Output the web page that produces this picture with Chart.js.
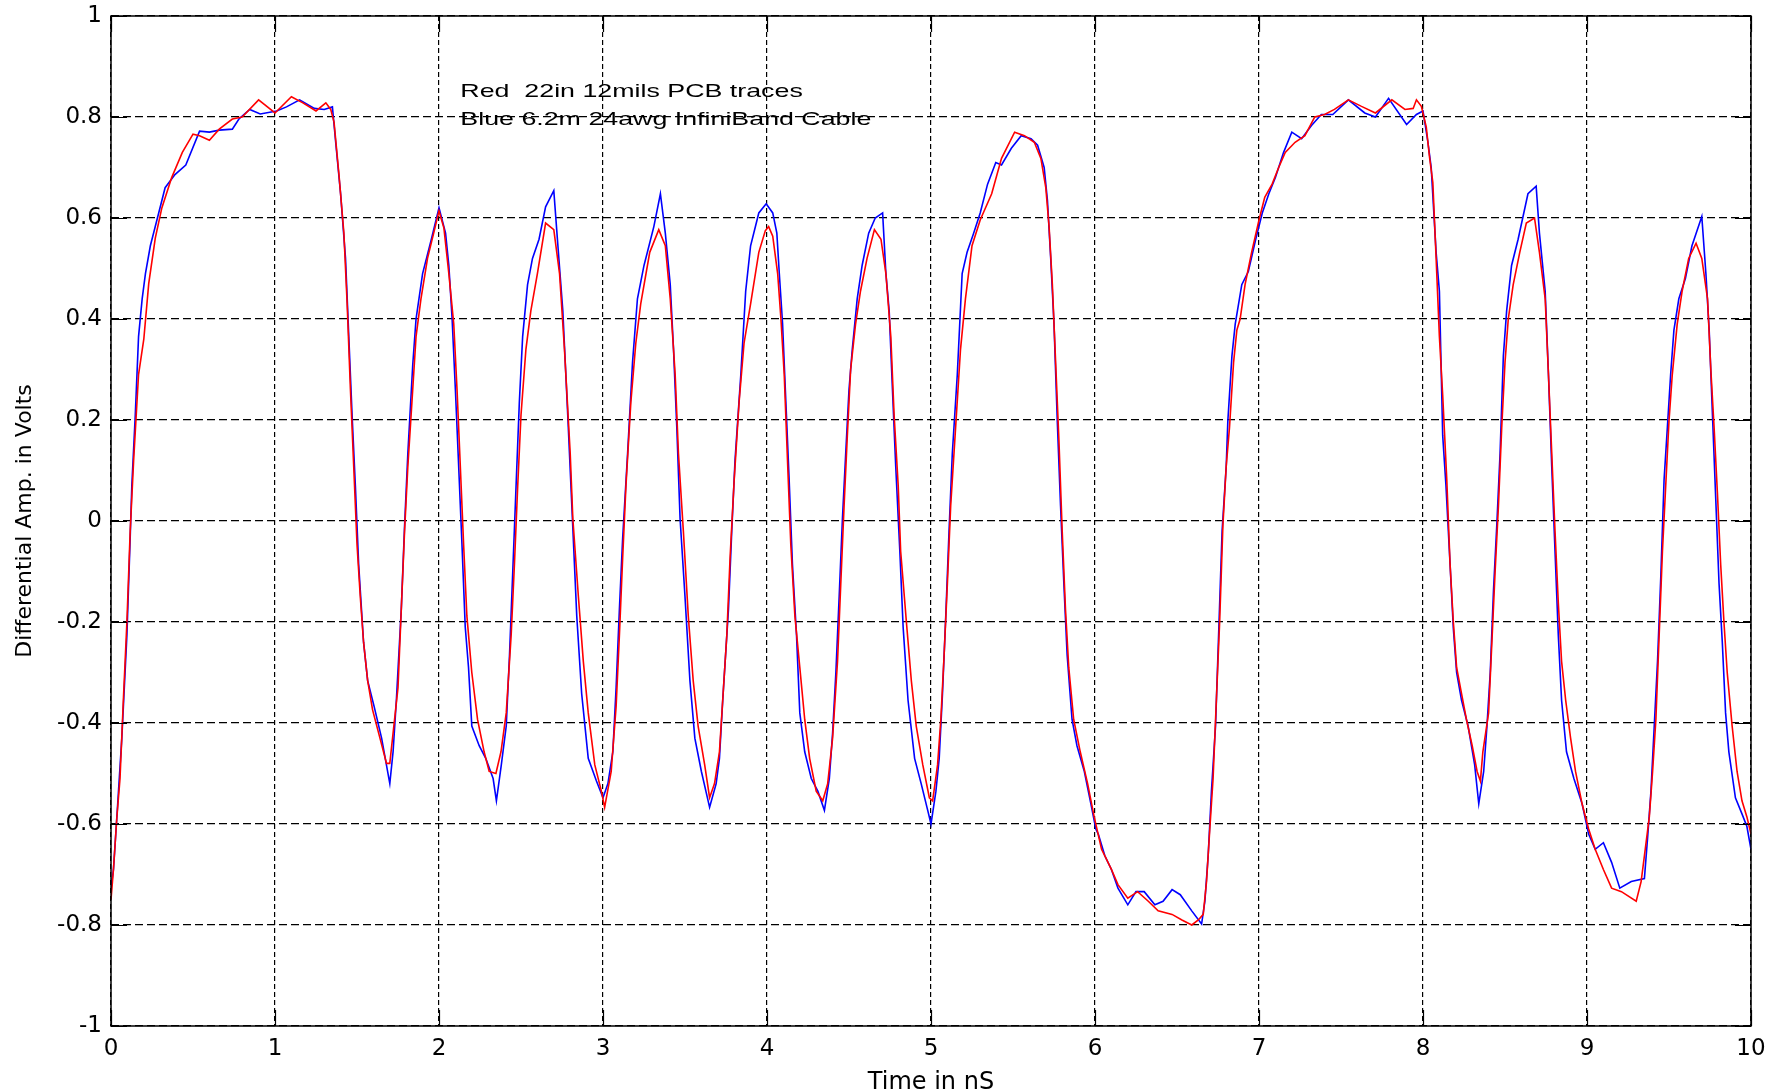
<!DOCTYPE html>
<html>
<head>
<meta charset="utf-8">
<script src="https://cdn.jsdelivr.net/npm/chart.js@4.4.0/dist/chart.umd.min.js"></script>
<style>
  body { margin: 0; background: #fff; }
  .wrap { width: 1777px; height: 1091px; position: relative; }
</style>
</head>
<body>
<div class="wrap"><canvas id="waveChart"></canvas></div>
<script>
var xTicks = [0, 1, 2, 3, 4, 5, 6, 7, 8, 9, 10];
var yTicks = [-1, -0.8, -0.6, -0.4, -0.2, 0, 0.2, 0.4, 0.6, 0.8, 1];

// Red: 22in 12mils PCB traces
var redTime = [0, 0.015, 0.035, 0.055, 0.076, 0.097, 0.117, 0.138, 0.168, 0.2, 0.23, 0.27, 0.31, 0.37, 0.435, 0.5, 0.54, 0.6, 0.66, 0.74, 0.8, 0.9, 1.0, 1.1, 1.17, 1.25, 1.31, 1.34, 1.36, 1.39, 1.42, 1.44, 1.46, 1.48, 1.5, 1.52, 1.54, 1.565, 1.595, 1.64, 1.68, 1.7, 1.72, 1.75, 1.77, 1.79, 1.81, 1.83, 1.86, 1.89, 1.93, 1.975, 2.0, 2.03, 2.06, 2.09, 2.11, 2.13, 2.15, 2.17, 2.2, 2.235, 2.275, 2.306, 2.347, 2.378, 2.41, 2.44, 2.46, 2.48, 2.5, 2.53, 2.56, 2.6, 2.65, 2.7, 2.735, 2.765, 2.8, 2.816, 2.85, 2.88, 2.91, 2.95, 2.99, 3.01, 3.05, 3.08, 3.1, 3.12, 3.14, 3.17, 3.2, 3.23, 3.285, 3.34, 3.38, 3.41, 3.44, 3.46, 3.49, 3.52, 3.55, 3.58, 3.62, 3.65, 3.68, 3.71, 3.73, 3.755, 3.775, 3.8, 3.83, 3.86, 3.9, 3.95, 3.99, 4.01, 4.035, 4.065, 4.085, 4.105, 4.125, 4.145, 4.17, 4.2, 4.23, 4.26, 4.3, 4.34, 4.37, 4.4, 4.43, 4.45, 4.47, 4.49, 4.51, 4.54, 4.57, 4.61, 4.655, 4.695, 4.725, 4.755, 4.775, 4.8, 4.815, 4.85, 4.88, 4.91, 4.95, 4.99, 5.01, 5.04, 5.06, 5.08, 5.1, 5.12, 5.15, 5.18, 5.21, 5.25, 5.3, 5.37, 5.43, 5.51, 5.57, 5.63, 5.67, 5.7, 5.72, 5.74, 5.76, 5.78, 5.8, 5.82, 5.84, 5.87, 5.91, 5.955, 5.995, 6.04, 6.06, 6.1, 6.14, 6.2, 6.26, 6.325, 6.385, 6.47, 6.53, 6.59, 6.63, 6.66, 6.68, 6.7, 6.72, 6.74, 6.76, 6.78, 6.8, 6.82, 6.845, 6.865, 6.885, 6.915, 6.955, 7.0, 7.035, 7.08, 7.12, 7.16, 7.22, 7.28, 7.34, 7.4, 7.46, 7.545, 7.625, 7.71, 7.81, 7.89, 7.94, 7.96, 7.99, 8.02, 8.04, 8.06, 8.08, 8.1, 8.12, 8.145, 8.165, 8.185, 8.205, 8.235, 8.265, 8.3, 8.33, 8.35, 8.365, 8.4, 8.42, 8.44, 8.46, 8.48, 8.5, 8.52, 8.55, 8.59, 8.63, 8.68, 8.71, 8.745, 8.765, 8.785, 8.805, 8.825, 8.845, 8.87, 8.9, 8.93, 8.97, 9.01, 9.05, 9.1, 9.15, 9.21, 9.3, 9.33, 9.35, 9.38, 9.4, 9.42, 9.44, 9.46, 9.48, 9.5, 9.52, 9.55, 9.58, 9.62, 9.665, 9.7, 9.735, 9.755, 9.775, 9.795, 9.815, 9.835, 9.855, 9.885, 9.915, 9.945, 9.975, 10.0];
var redVolts = [-0.75, -0.69, -0.59, -0.51, -0.35, -0.2, -0.02, 0.12, 0.29, 0.36, 0.47, 0.56, 0.62, 0.68, 0.73, 0.766, 0.763, 0.754, 0.776, 0.796, 0.8, 0.834, 0.808, 0.84, 0.828, 0.812, 0.828, 0.815, 0.79, 0.686, 0.57, 0.43, 0.26, 0.108, -0.046, -0.15, -0.24, -0.316, -0.374, -0.43, -0.48, -0.48, -0.42, -0.33, -0.175, -0.02, 0.108, 0.21, 0.365, 0.44, 0.52, 0.58, 0.614, 0.58, 0.49, 0.39, 0.26, 0.108, -0.046, -0.188, -0.3, -0.393, -0.457, -0.496, -0.5, -0.457, -0.38, -0.226, -0.085, 0.07, 0.21, 0.34, 0.416, 0.49, 0.59, 0.577, 0.49, 0.34, 0.134, 0.005, -0.15, -0.278, -0.38, -0.483, -0.535, -0.567, -0.496, -0.367, -0.226, -0.072, 0.07, 0.236, 0.352, 0.43, 0.532, 0.577, 0.545, 0.44, 0.29, 0.134, -0.02, -0.188, -0.316, -0.406, -0.483, -0.548, -0.52, -0.457, -0.355, -0.226, -0.072, 0.082, 0.236, 0.352, 0.43, 0.532, 0.575, 0.583, 0.564, 0.49, 0.4, 0.29, 0.12, -0.046, -0.188, -0.29, -0.393, -0.47, -0.535, -0.554, -0.52, -0.43, -0.278, -0.123, 0.03, 0.17, 0.3, 0.39, 0.455, 0.52, 0.577, 0.558, 0.49, 0.365, 0.21, 0.07, -0.06, -0.2, -0.316, -0.406, -0.483, -0.548, -0.554, -0.483, -0.393, -0.265, -0.123, 0.03, 0.185, 0.34, 0.44, 0.545, 0.596, 0.648, 0.718, 0.77, 0.763, 0.75, 0.718, 0.66, 0.583, 0.468, 0.314, 0.16, -0.02, -0.175, -0.29, -0.393, -0.457, -0.52, -0.586, -0.65, -0.663, -0.69, -0.72, -0.747, -0.734, -0.753, -0.772, -0.779, -0.79, -0.8, -0.79, -0.779, -0.714, -0.61, -0.51, -0.355, -0.2, -0.008, 0.108, 0.185, 0.314, 0.378, 0.4, 0.468, 0.532, 0.596, 0.641, 0.667, 0.7, 0.73, 0.75, 0.763, 0.8, 0.805, 0.815, 0.834, 0.821, 0.808, 0.834, 0.815, 0.817, 0.834, 0.821, 0.78, 0.72, 0.67, 0.52, 0.365, 0.25, 0.082, -0.085, -0.2, -0.29, -0.342, -0.393, -0.445, -0.496, -0.515, -0.457, -0.38, -0.24, -0.098, 0.03, 0.185, 0.314, 0.4, 0.468, 0.532, 0.59, 0.6, 0.532, 0.44, 0.29, 0.134, -0.02, -0.162, -0.278, -0.355, -0.43, -0.496, -0.56, -0.61, -0.65, -0.69, -0.727, -0.734, -0.753, -0.714, -0.663, -0.586, -0.496, -0.393, -0.226, -0.06, 0.07, 0.198, 0.29, 0.39, 0.455, 0.52, 0.55, 0.52, 0.44, 0.3, 0.185, 0.057, -0.085, -0.2, -0.3, -0.406, -0.496, -0.554, -0.586, -0.62];

// Blue: 6.2m 24awg InfiniBand cable
var blueTime = [0, 0.015, 0.035, 0.066, 0.097, 0.117, 0.127, 0.148, 0.168, 0.19, 0.21, 0.24, 0.28, 0.33, 0.39, 0.456, 0.54, 0.6, 0.66, 0.74, 0.78, 0.846, 0.91, 1.01, 1.07, 1.15, 1.24, 1.3, 1.35, 1.37, 1.4, 1.43, 1.45, 1.47, 1.49, 1.51, 1.54, 1.565, 1.605, 1.65, 1.7, 1.72, 1.74, 1.77, 1.79, 1.81, 1.84, 1.86, 1.9, 1.955, 2.0, 2.04, 2.06, 2.08, 2.1, 2.12, 2.14, 2.16, 2.18, 2.2, 2.245, 2.285, 2.33, 2.35, 2.38, 2.41, 2.43, 2.45, 2.47, 2.49, 2.51, 2.54, 2.57, 2.61, 2.65, 2.7, 2.725, 2.755, 2.785, 2.81, 2.84, 2.87, 2.91, 2.96, 3.0, 3.03, 3.06, 3.08, 3.1, 3.12, 3.15, 3.18, 3.21, 3.25, 3.31, 3.35, 3.38, 3.41, 3.43, 3.45, 3.47, 3.5, 3.53, 3.56, 3.6, 3.65, 3.69, 3.71, 3.73, 3.765, 3.785, 3.805, 3.84, 3.87, 3.9, 3.95, 3.995, 4.035, 4.06, 4.075, 4.095, 4.115, 4.135, 4.155, 4.18, 4.2, 4.23, 4.27, 4.31, 4.35, 4.38, 4.4, 4.42, 4.44, 4.46, 4.48, 4.5, 4.52, 4.55, 4.58, 4.62, 4.66, 4.705, 4.725, 4.745, 4.765, 4.785, 4.81, 4.83, 4.86, 4.9, 4.94, 4.98, 5.0, 5.03, 5.05, 5.07, 5.09, 5.11, 5.13, 5.16, 5.19, 5.22, 5.26, 5.3, 5.345, 5.395, 5.43, 5.49, 5.55, 5.61, 5.65, 5.69, 5.71, 5.73, 5.75, 5.77, 5.79, 5.81, 5.83, 5.86, 5.89, 5.935, 5.975, 6.005, 6.02, 6.06, 6.1, 6.14, 6.2, 6.25, 6.3, 6.365, 6.415, 6.47, 6.52, 6.59, 6.65, 6.67, 6.69, 6.71, 6.735, 6.755, 6.775, 6.8, 6.81, 6.835, 6.855, 6.895, 6.935, 6.98, 7.02, 7.06, 7.1, 7.15, 7.2, 7.26, 7.32, 7.38, 7.45, 7.545, 7.645, 7.71, 7.79, 7.9, 7.96, 8.0, 8.03, 8.05, 8.08, 8.1, 8.12, 8.14, 8.165, 8.185, 8.205, 8.235, 8.275, 8.315, 8.34, 8.37, 8.39, 8.41, 8.43, 8.45, 8.47, 8.49, 8.51, 8.54, 8.58, 8.64, 8.69, 8.71, 8.745, 8.765, 8.785, 8.805, 8.825, 8.845, 8.875, 8.92, 8.97, 9.01, 9.05, 9.1, 9.15, 9.2, 9.27, 9.35, 9.37, 9.39, 9.41, 9.43, 9.45, 9.47, 9.49, 9.51, 9.53, 9.56, 9.6, 9.64, 9.7, 9.725, 9.745, 9.765, 9.785, 9.805, 9.825, 9.845, 9.865, 9.905, 9.945, 9.975, 10.0];
var blueVolts = [-0.727, -0.69, -0.59, -0.43, -0.226, -0.033, 0.07, 0.21, 0.365, 0.44, 0.49, 0.545, 0.596, 0.66, 0.686, 0.705, 0.772, 0.77, 0.774, 0.776, 0.796, 0.815, 0.806, 0.812, 0.82, 0.834, 0.817, 0.815, 0.82, 0.75, 0.648, 0.52, 0.365, 0.21, 0.07, -0.085, -0.24, -0.316, -0.368, -0.43, -0.52, -0.457, -0.355, -0.175, -0.01, 0.134, 0.31, 0.4, 0.49, 0.56, 0.62, 0.57, 0.506, 0.4, 0.26, 0.108, -0.046, -0.21, -0.29, -0.406, -0.445, -0.47, -0.51, -0.554, -0.483, -0.406, -0.265, -0.098, 0.07, 0.236, 0.365, 0.468, 0.52, 0.558, 0.622, 0.654, 0.545, 0.416, 0.21, 0.03, -0.188, -0.342, -0.47, -0.515, -0.548, -0.52, -0.457, -0.33, -0.175, -0.033, 0.134, 0.314, 0.44, 0.506, 0.583, 0.648, 0.57, 0.468, 0.34, 0.185, 0.005, -0.15, -0.316, -0.43, -0.496, -0.567, -0.52, -0.47, -0.355, -0.175, -0.02, 0.12, 0.288, 0.455, 0.545, 0.61, 0.628, 0.61, 0.57, 0.49, 0.39, 0.236, 0.082, -0.085, -0.226, -0.38, -0.457, -0.51, -0.535, -0.573, -0.51, -0.42, -0.3, -0.15, 0.005, 0.134, 0.26, 0.34, 0.44, 0.506, 0.57, 0.6, 0.61, 0.49, 0.416, 0.26, 0.108, -0.06, -0.21, -0.355, -0.47, -0.52, -0.573, -0.6, -0.535, -0.47, -0.342, -0.188, -0.02, 0.134, 0.288, 0.49, 0.532, 0.57, 0.61, 0.667, 0.71, 0.705, 0.738, 0.763, 0.757, 0.744, 0.7, 0.635, 0.52, 0.39, 0.198, 0.03, -0.123, -0.265, -0.393, -0.445, -0.496, -0.56, -0.61, -0.62, -0.663, -0.69, -0.727, -0.76, -0.734, -0.734, -0.76, -0.753, -0.73, -0.74, -0.772, -0.798, -0.753, -0.663, -0.535, -0.406, -0.213, -0.02, 0.108, 0.198, 0.327, 0.39, 0.468, 0.494, 0.558, 0.61, 0.648, 0.68, 0.73, 0.77, 0.757, 0.783, 0.805, 0.805, 0.834, 0.808, 0.8, 0.837, 0.785, 0.805, 0.812, 0.75, 0.7, 0.532, 0.455, 0.17, 0.07, -0.085, -0.213, -0.3, -0.355, -0.406, -0.483, -0.56, -0.496, -0.406, -0.3, -0.136, -0.008, 0.134, 0.327, 0.416, 0.506, 0.558, 0.648, 0.663, 0.57, 0.455, 0.29, 0.108, -0.06, -0.226, -0.355, -0.457, -0.51, -0.56, -0.62, -0.65, -0.637, -0.676, -0.727, -0.714, -0.708, -0.625, -0.535, -0.406, -0.278, -0.11, 0.082, 0.185, 0.29, 0.378, 0.44, 0.48, 0.545, 0.603, 0.49, 0.378, 0.21, 0.044, -0.123, -0.24, -0.38, -0.457, -0.548, -0.58, -0.605, -0.65];

var noteLines = ['Red  22in 12mils PCB traces', 'Blue 6.2m 24awg InfiniBand Cable'];

function toPoints(ts, vs) {
  return ts.map(function (t, i) { return { x: t, y: vs[i] }; });
}

// box around the axes plus matlab style inward tick marks and the text note
var matlabAxes = {
  id: 'matlabAxes',
  beforeDatasetsDraw: function (chart) {
    var ctx = chart.ctx;
    var xs = chart.scales.x, ys = chart.scales.y;
    ctx.save();
    ctx.fillStyle = '#000';
    ctx.font = '19px "Liberation Sans", Arial, sans-serif';
    ctx.textBaseline = 'alphabetic';
    var nx = xs.getPixelForValue(2.13);
    var rows = [0.84, 0.784];
    noteLines.forEach(function (txt, i) {
      ctx.save();
      ctx.translate(nx, ys.getPixelForValue(rows[i]));
      ctx.scale(1.41, 1);
      ctx.fillText(txt, 0, 0);
      ctx.restore();
    });
    ctx.restore();
  },
  afterDraw: function (chart) {
    var ctx = chart.ctx;
    var a = chart.chartArea;
    var xs = chart.scales.x, ys = chart.scales.y;
    var len = 16;
    ctx.save();
    ctx.strokeStyle = '#000';
    ctx.lineWidth = 1.2;
    ctx.beginPath();
    xTicks.forEach(function (v) {
      var px = Math.round(xs.getPixelForValue(v)) + 0.5;
      ctx.moveTo(px, a.bottom); ctx.lineTo(px, a.bottom - len);
      ctx.moveTo(px, a.top); ctx.lineTo(px, a.top + len);
    });
    yTicks.forEach(function (v) {
      var py = Math.round(ys.getPixelForValue(v)) + 0.5;
      ctx.moveTo(a.left, py); ctx.lineTo(a.left + len, py);
      ctx.moveTo(a.right, py); ctx.lineTo(a.right - len, py);
    });
    ctx.stroke();
    ctx.lineWidth = 1.5;
    ctx.strokeRect(a.left, a.top, a.right - a.left, a.bottom - a.top);
    ctx.restore();
  }
};

function noEdgePadding(scale) {
  scale.paddingTop = 0;
  scale.paddingBottom = 0;
  scale.paddingLeft = 0;
  scale.paddingRight = 0;
}

var ctx = document.getElementById('waveChart').getContext('2d');

var waveChart = new Chart(ctx, {
  type: 'line',
  data: {
    datasets: [{
      label: 'Red 22in 12mils PCB traces',
      data: toPoints(redTime, redVolts),
      borderColor: '#ff0000',
      borderWidth: 1.6,
      pointRadius: 0,
      tension: 0,
      order: 0
    }, {
      label: 'Blue 6.2m 24awg InfiniBand Cable',
      data: toPoints(blueTime, blueVolts),
      borderColor: '#0000ff',
      borderWidth: 1.6,
      pointRadius: 0,
      tension: 0,
      order: 1
    }]
  },
  options: {
    responsive: true,
    maintainAspectRatio: false,
    animation: false,
    layout: { padding: { top: 16, right: 26, left: 0, bottom: 0 } },
    plugins: { legend: { display: false }, tooltip: { enabled: false } },
    scales: {
      x: {
        type: 'linear',
        min: 0,
        max: 10,
        afterBuildTicks: function (scale) {
          scale.ticks = xTicks.map(function (v) { return { value: v }; });
        },
        afterFit: function (scale) { scale.height = 65; noEdgePadding(scale); },
        grid: { color: '#000', lineWidth: 1.2, drawTicks: false },
        border: { display: false, dash: [5, 3] },
        ticks: {
          color: '#000',
          padding: 9,
          maxRotation: 0,
          font: { family: '"DejaVu Sans", sans-serif', size: 23 },
          callback: function (v) { return String(v); }
        },
        title: {
          display: true,
          text: 'Time in nS',
          color: '#000',
          padding: { top: 0, bottom: 0 },
          font: { family: '"DejaVu Sans", sans-serif', size: 24, lineHeight: 0.7 }
        }
      },
      y: {
        min: -1,
        max: 1,
        afterBuildTicks: function (scale) {
          scale.ticks = yTicks.map(function (v) { return { value: v }; });
        },
        afterFit: function (scale) { scale.width = 111; noEdgePadding(scale); },
        grid: { color: '#000', lineWidth: 1.2, drawTicks: false },
        border: { display: false, dash: [8, 4] },
        ticks: {
          color: '#000',
          padding: 9,
          font: { family: '"DejaVu Sans", sans-serif', size: 23 },
          callback: function (v) { return String(Math.round(v * 10) / 10); }
        },
        title: {
          display: true,
          text: 'Differential Amp. in Volts',
          color: '#000',
          padding: { top: 12, bottom: 0 },
          font: { family: '"DejaVu Sans", sans-serif', size: 22 }
        }
      }
    }
  },
  plugins: [matlabAxes]
});
</script>
</body>
</html>
